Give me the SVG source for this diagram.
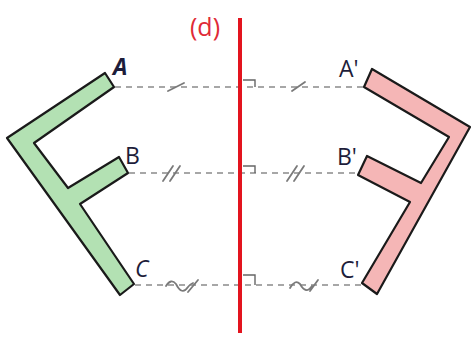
<svg xmlns="http://www.w3.org/2000/svg" width="472" height="338" viewBox="0 0 472 338">
<style>
.dash{stroke:#8a8a8a;stroke-width:1.6;stroke-dasharray:6 5;fill:none}
.tick{stroke:#7a7a7a;stroke-width:1.8;fill:none;stroke-linecap:round}
.sq{stroke:#666;stroke-width:1.4;fill:none}
.lbl{font-family:"Open Sans","Liberation Sans",sans-serif;font-size:23px;fill:#1d1d3a}
</style>
<rect width="472" height="338" fill="#ffffff"/>
<g id="connectors">
<line class="dash" x1="115" y1="87" x2="366" y2="87"/>
<line class="dash" x1="129" y1="173" x2="358" y2="173"/>
<line class="dash" x1="135" y1="285" x2="362" y2="285"/>
<path class="tick" d="M168 91 L184 83"/>
<path class="tick" d="M292 91 L305 82"/>
<path class="tick" d="M163 181 L173 166 M170 181 L180 166"/>
<path class="tick" d="M287 181 L297 166 M294 181 L304 166"/>
<path class="tick" d="M166 286 Q171 278 176 284 Q182 296 188 287 Q190 284 193 283 M188 292 L198 280"/>
<path class="tick" d="M290 288 Q295 279 300 284 Q306 295 312 286 M310 291 L318 280"/>
<path class="sq" d="M243 80 H255 V87 M243 166 H255 V173 M243 275 H255 V285"/>
</g>
<g id="axis">
<line x1="240" y1="18" x2="240" y2="333" stroke="#e3141e" stroke-width="4"/>
<text x="205" y="36" text-anchor="middle" font-family="Open Sans, Liberation Sans, sans-serif" font-size="25" fill="#e02a36">(d)</text>
</g>
<g id="shapeF">
<polygon points="7,138 105,73 114,87 34,143 68,188 119,157 128,173 80,204 134,284 120,295" fill="#b3e1b3" stroke="#1a1a1a" stroke-width="2.2" stroke-linejoin="round"/>
</g>
<g id="shapeF2">
<polygon points="372,69 470,127 377,294 362,283 410,202 358,175 367,156 421,183 449,137 364,87" fill="#f5b6b6" stroke="#1a1a1a" stroke-width="2.2" stroke-linejoin="round"/>
</g>
<g id="labels">
<text class="lbl" x="113" y="75" font-weight="bold" font-style="italic">A</text>
<text class="lbl" x="125" y="164">B</text>
<text class="lbl" x="135" y="277" font-style="italic">C</text>
<text class="lbl" x="339" y="77">A'</text>
<text class="lbl" x="337" y="165">B'</text>
<text class="lbl" x="340" y="278">C'</text>
</g>
</svg>
